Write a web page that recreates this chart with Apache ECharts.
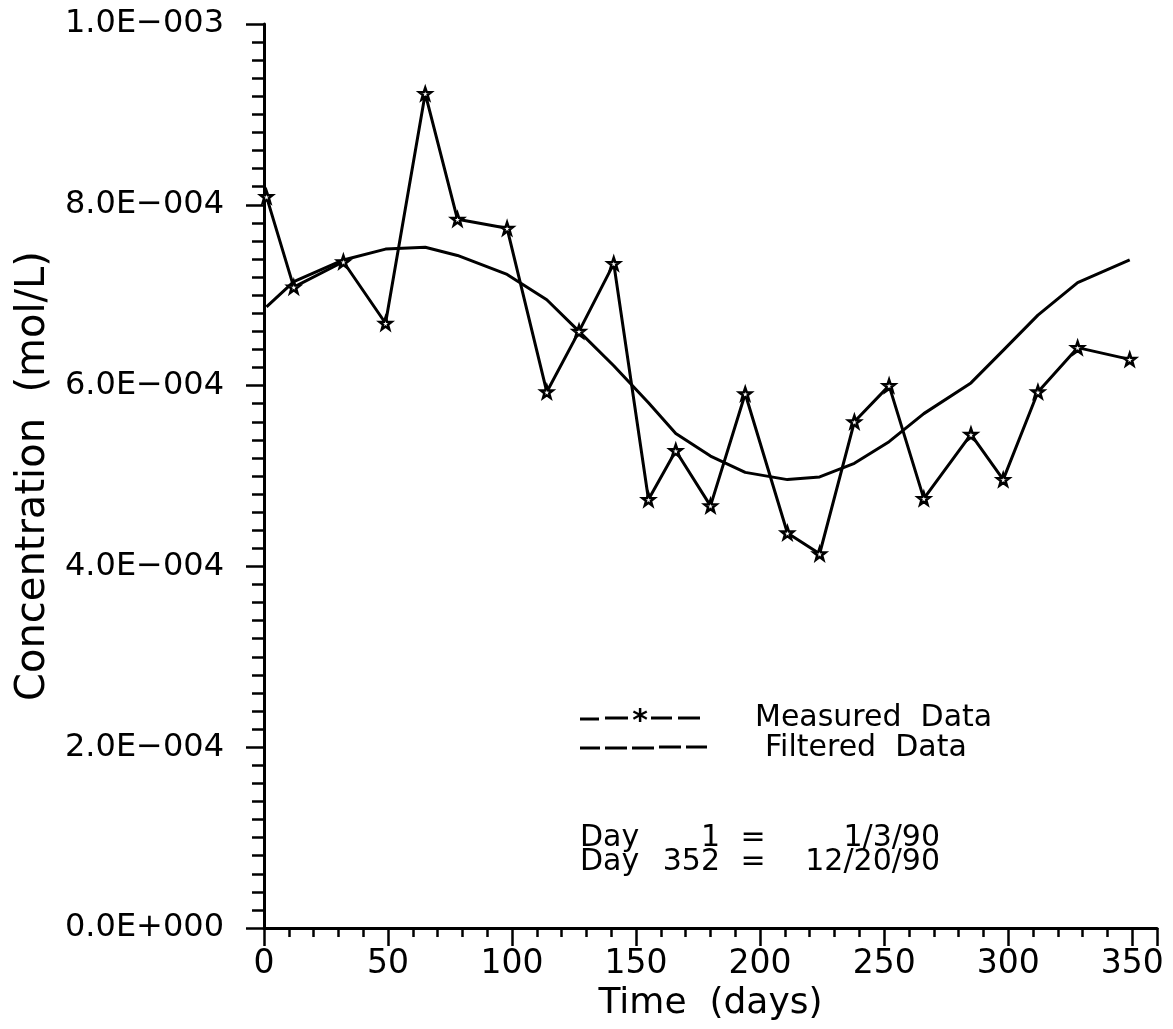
<!DOCTYPE html>
<html>
<head>
<meta charset="utf-8">
<title>Concentration vs Time</title>
<script src="https://cdn.jsdelivr.net/npm/echarts@6/dist/echarts.min.js"></script>
<style>
  html, body { margin: 0; padding: 0; background: #fff; overflow: hidden; }
  #chart { width: 1173px; height: 1029px; }
</style>
</head>
<body>
<div id="chart"></div>
<script>
// Sampling days (Day 1 = 1/3/90)
const days = [1, 12, 32, 49, 65, 78, 98, 114, 127, 141, 155, 166, 180, 194, 211, 224, 238, 252, 266, 285, 298, 312, 328, 349];

// Measured concentration (mol/L)
const measured = [8.09e-4, 7.09e-4, 7.37e-4, 6.69e-4, 9.23e-4, 7.84e-4, 7.74e-4, 5.93e-4, 6.60e-4, 7.35e-4,
                  4.74e-4, 5.28e-4, 4.67e-4, 5.91e-4, 4.37e-4, 4.14e-4, 5.60e-4, 6.00e-4, 4.75e-4, 5.46e-4,
                  4.96e-4, 5.93e-4, 6.42e-4, 6.29e-4];

// Filtered concentration (mol/L)
const filtered = [6.87e-4, 7.15e-4, 7.39e-4, 7.51e-4, 7.53e-4, 7.44e-4, 7.23e-4, 6.95e-4, 6.60e-4, 6.22e-4,
                  5.81e-4, 5.47e-4, 5.22e-4, 5.04e-4, 4.96e-4, 4.99e-4, 5.14e-4, 5.38e-4, 5.69e-4, 6.03e-4,
                  6.39e-4, 6.78e-4, 7.14e-4, 7.39e-4];

// Axis ranges
const xMin = 0, xMax = 360, xStep = 50;
const yMin = 0, yMax = 1.0e-3, yStep = 2.0e-4;

const FONT = 'DejaVu Sans';
const STAR = 'path://M0,-10L2.35,-3.24L9.51,-3.09L3.8,1.24L5.88,8.09L0,4L-5.88,8.09L-3.8,1.24L-9.51,-3.09L-2.35,-3.24Z';

// Fortran-style exponent labels, e.g. 8.0E-004
function sciLabel(v) {
  const s = Number(v).toExponential(1);
  const parts = s.split('e');
  const exp = parseInt(parts[1], 10);
  const sign = exp < 0 ? '\u2212' : '+';
  return parts[0] + 'E' + sign + String(Math.abs(exp)).padStart(3, '0');
}

const chart = echarts.init(document.getElementById('chart'), null, { renderer: 'canvas' });

const pair = (xs, ys) => xs.map((x, i) => [x, ys[i]]);

const txt = (x, y, text, align) => ({
  type: 'text', x: x, y: y,
  style: { text: text, fontFamily: FONT, fontSize: 30, fill: '#000', textAlign: align || 'left', textVerticalAlign: 'middle' }
});
const seg = (x1, x2, y) => ({
  type: 'line', shape: { x1: x1, y1: y, x2: x2, y2: y }, style: { stroke: '#000', lineWidth: 3 }
});

chart.setOption({
  animation: false,
  backgroundColor: '#ffffff',
  grid: { left: 264, top: 24, right: 16, bottom: 101, containLabel: false, outerBoundsMode: 'none' },
  xAxis: {
    type: 'value',
    min: xMin, max: xMax, interval: xStep,
    name: 'Time  (days)',
    nameLocation: 'middle',
    nameGap: 55,
    nameTextStyle: { fontFamily: FONT, fontSize: 36, color: '#000' },
    axisLine: { show: true, lineStyle: { color: '#000', width: 3 } },
    axisTick: { show: true, inside: false, length: 18, lineStyle: { color: '#000', width: 2.5 } },
    minorTick: { show: true, splitNumber: 5, length: 9, lineStyle: { color: '#000', width: 2.5 } },
    axisLabel: { fontFamily: FONT, fontSize: 33, color: '#000', margin: 20 },
    splitLine: { show: false }
  },
  yAxis: {
    type: 'value',
    min: yMin, max: yMax, interval: yStep,
    name: 'Concentration  (mol/L)',
    nameLocation: 'middle',
    nameGap: 209,
    nameTextStyle: { fontFamily: FONT, fontSize: 40, color: '#000' },
    axisLine: { show: true, lineStyle: { color: '#000', width: 3 } },
    axisTick: { show: true, inside: false, length: 18, lineStyle: { color: '#000', width: 2.5 } },
    minorTick: { show: true, splitNumber: 10, length: 12, lineStyle: { color: '#000', width: 2.5 } },
    axisLabel: { fontFamily: FONT, fontSize: 32, color: '#000', margin: 40, formatter: sciLabel },
    splitLine: { show: false }
  },
  series: [
    {
      name: 'Measured Data',
      type: 'line',
      data: pair(days, measured),
      symbol: STAR,
      symbolSize: 12,
      showSymbol: true,
      lineStyle: { color: '#000', width: 3 },
      itemStyle: { color: '#fff', borderColor: '#000', borderWidth: 2.5 },
      z: 3
    },
    {
      name: 'Filtered Data',
      type: 'line',
      data: pair(days, filtered),
      symbol: 'none',
      showSymbol: false,
      lineStyle: { color: '#000', width: 3 },
      z: 2
    }
  ],
  graphic: [
    // Legend keys
    seg(580, 599, 719), seg(605, 628, 718),
    { type: 'text', x: 640, y: 722, style: { text: '*', fontFamily: FONT, fontSize: 30, fontWeight: 'bold', fill: '#000', textAlign: 'center', textVerticalAlign: 'middle' } },
    seg(651, 672, 718), seg(678, 700, 718),
    seg(580, 600, 748), seg(605, 627, 748), seg(632, 654, 748), seg(659, 681, 747), seg(686, 707, 747),
    txt(755, 718, 'Measured  Data'),
    txt(765, 748, 'Filtered  Data'),
    // Date reference notes
    txt(580, 838, 'Day'), txt(720, 838, '1', 'right'), txt(753, 838, '=', 'center'), txt(940, 838, '1/3/90', 'right'),
    txt(580, 862, 'Day'), txt(720, 862, '352', 'right'), txt(753, 862, '=', 'center'), txt(940, 862, '12/20/90', 'right')
  ]
});
</script>
</body>
</html>
